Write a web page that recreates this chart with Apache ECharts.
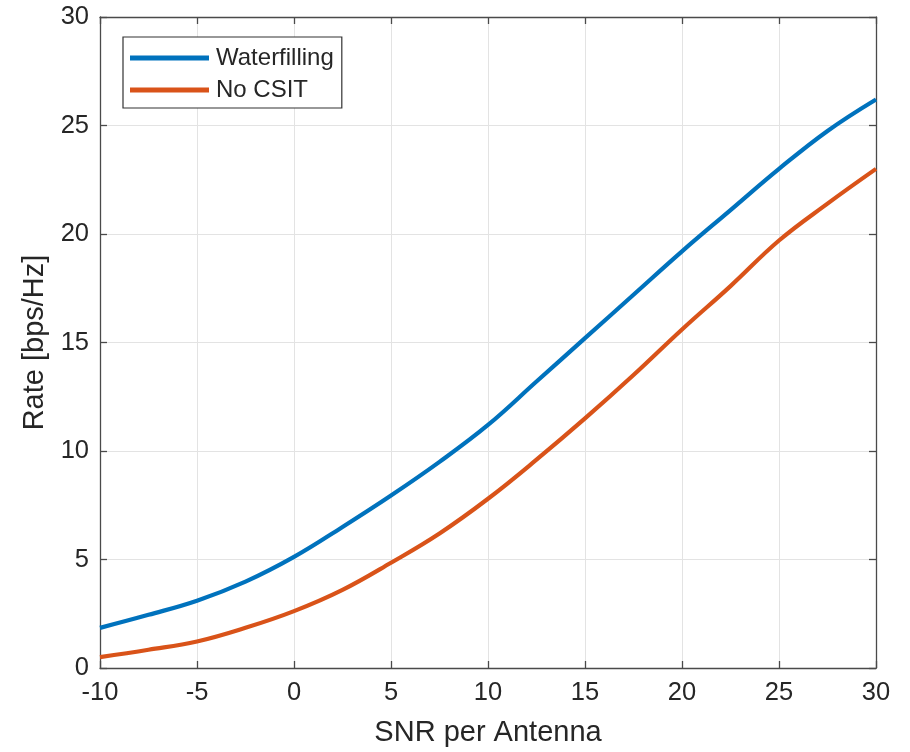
<!DOCTYPE html>
<html>
<head>
<meta charset="utf-8">
<script src="https://cdn.jsdelivr.net/npm/echarts@6/dist/echarts.min.js"></script>
<style>
  html, body { margin: 0; padding: 0; background: #fff; }
  #chart { width: 910px; height: 752px; }
</style>
</head>
<body>
<div id="chart"></div>
<script>
// SNR per antenna (dB) sample points
const snr = [-10, -7.5, -5, -2.5, 0, 2.5, 5, 7.5, 10, 12.5, 15, 17.5, 20, 22.5, 25, 27.5, 30];
// Achievable rate with waterfilling power allocation (bps/Hz)
const waterfilling = [1.85, 2.45, 3.1, 3.98, 5.12, 6.5, 7.95, 9.5, 11.2, 13.2, 15.2, 17.2, 19.2, 21.1, 23.0, 24.75, 26.2];
// Achievable rate with equal power, no channel knowledge at the transmitter (bps/Hz)
const noCsit = [0.5, 0.84, 1.22, 1.85, 2.62, 3.6, 4.85, 6.2, 7.8, 9.6, 11.5, 13.5, 15.6, 17.6, 19.7, 21.4, 23.0];

const xTicks = [-10, -5, 0, 5, 10, 15, 20, 25, 30];
const yTicks = [0, 5, 10, 15, 20, 25, 30];

const FONT = '"Liberation Sans", Arial, Helvetica, sans-serif';
const AXIS_COLOR = '#4a4a4a';
const TEXT_COLOR = '#262626';

const chart = echarts.init(document.getElementById('chart'), null, { renderer: 'canvas' });

const pair = (xs, ys) => xs.map((x, i) => [x, ys[i]]);

const baseAxis = {
  type: 'value',
  axisLine: { show: true, onZero: false, lineStyle: { color: AXIS_COLOR, width: 1.3 } },
  axisTick: { show: true, inside: true, length: 7, lineStyle: { color: AXIS_COLOR, width: 1.3 } },
  splitLine: { show: false },
};

chart.setOption({
  animation: false,
  backgroundColor: '#ffffff',
  grid: { left: 100, top: 17, width: 776, height: 651, containLabel: false },
  legend: {
    orient: 'vertical',
    left: 123,
    top: 37,
    data: [
      { name: 'Waterfilling', icon: 'rect' },
      { name: 'No CSIT', icon: 'rect' },
    ],
    backgroundColor: '#ffffff',
    borderColor: '#333333',
    borderWidth: 1.2,
    padding: [8, 8, 5, 7],
    itemGap: 6,
    itemWidth: 79,
    itemHeight: 5,
    textStyle: { fontFamily: FONT, fontSize: 24, lineHeight: 26, color: TEXT_COLOR, padding: [0, 0, 0, 2] },
  },
  xAxis: [
    Object.assign({}, baseAxis, {
      min: -10, max: 30, interval: 5,
      position: 'bottom',
      name: 'SNR per Antenna',
      nameLocation: 'middle',
      nameGap: 50,
      nameTextStyle: { fontFamily: FONT, fontSize: 29, color: TEXT_COLOR },
      axisLabel: { fontFamily: FONT, fontSize: 25.5, color: TEXT_COLOR, margin: 12,
        formatter: v => (xTicks.includes(v) ? String(v) : '') },
      splitLine: { show: true, lineStyle: { color: '#e3e3e3', width: 1 } },
    }),
    Object.assign({}, baseAxis, {
      min: -10, max: 30, interval: 5,
      position: 'top',
      axisLabel: { show: false },
    }),
  ],
  yAxis: [
    Object.assign({}, baseAxis, {
      min: 0, max: 30, interval: 5,
      position: 'left',
      name: 'Rate [bps/Hz]',
      nameLocation: 'middle',
      nameGap: 50,
      nameTextStyle: { fontFamily: FONT, fontSize: 29, color: TEXT_COLOR },
      axisLabel: { fontFamily: FONT, fontSize: 25.5, color: TEXT_COLOR, margin: 11,
        formatter: v => (yTicks.includes(v) ? String(v) : '') },
      splitLine: { show: true, lineStyle: { color: '#e3e3e3', width: 1 } },
    }),
    Object.assign({}, baseAxis, {
      min: 0, max: 30, interval: 5,
      position: 'right',
      axisLabel: { show: false },
    }),
  ],
  series: [
    {
      name: 'Waterfilling',
      type: 'line',
      data: pair(snr, waterfilling),
      smooth: 0.4,
      symbol: 'none',
      color: '#0072BD',
      lineStyle: { width: 4.2, color: '#0072BD' },
      z: 3,
    },
    {
      name: 'No CSIT',
      type: 'line',
      data: pair(snr, noCsit),
      smooth: 0.4,
      symbol: 'none',
      color: '#D95319',
      lineStyle: { width: 4.2, color: '#D95319' },
      z: 3,
    },
  ],
});
</script>
</body>
</html>
